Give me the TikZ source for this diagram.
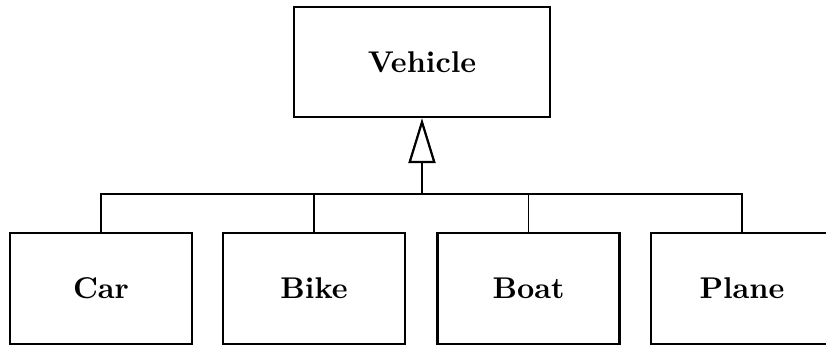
\documentclass[tikz,border=0pt]{standalone}
\usetikzlibrary{arrows.meta}
\begin{document}
\begin{tikzpicture}[x=0.3333pt,y=-0.3333pt,
  classbox/.style={draw,line width=0.75pt,inner sep=0pt,font=\bfseries},
  parentbox/.style={classbox,minimum width=85.3pt,minimum height=36.7pt},
  childbox/.style={classbox,minimum width=60.7pt,minimum height=37pt},
  bus/.style={line width=0.5pt},
  stem/.style={line width=0.75pt,-{Triangle[open,length=15pt,width=9pt]}}]
\useasboundingbox (0,0) rectangle (826,347);
\node[parentbox] (veh) at (422,62) {Vehicle};
\node[childbox] (car) at (101,288.5) {Car};
\node[childbox] (bike) at (314,288.5) {Bike};
\node[childbox] (boat) at (528.5,288.5) {Boat};
\node[childbox] (plane) at (742,288.5) {Plane};
\coordinate (j) at (422,194);
\draw[bus] (car.north) -- (car.north |- j) -- (plane.north |- j) -- (plane.north);
\draw[bus] (bike.north) -- (bike.north |- j);
\draw[bus] (boat.north) -- (boat.north |- j);
\draw[stem] (j) -- (veh.south);
\end{tikzpicture}
\end{document}
